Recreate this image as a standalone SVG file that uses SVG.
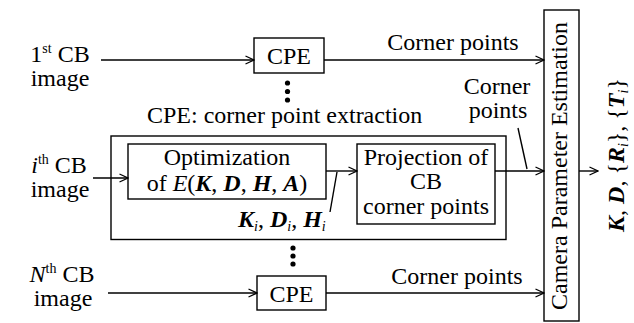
<svg xmlns="http://www.w3.org/2000/svg" width="634" height="323" viewBox="0 0 634 323" font-family="'Liberation Serif', 'DejaVu Serif', serif" font-size="24">
  <defs>
    <marker id="arr" viewBox="0 0 10 10" refX="9.5" refY="5" markerWidth="10" markerHeight="10" markerUnits="userSpaceOnUse" orient="auto">
      <path d="M1,1 L9.5,5 L1,9" fill="none" stroke="#000" stroke-width="1.3"/>
    </marker>
  </defs>
  <style>
    .box { fill: #fff; stroke: #000; stroke-width: 1.4; }
    .line { fill: none; stroke: #000; stroke-width: 1.4; }
    .arrow { fill: none; stroke: #000; stroke-width: 1.4; marker-end: url(#arr); }
    .bi { font-weight: bold; font-style: italic; }
    .it { font-style: italic; }
    .sup { font-size: 14px; }
    .mid { text-anchor: middle; }
  </style>
  <rect width="634" height="323" fill="#fff"/>

  <!-- inputs -->
  <g id="input1">
    <text x="60" y="62" class="mid">1<tspan class="sup" dy="-9">st</tspan><tspan dy="9"> CB</tspan></text>
    <text x="60" y="86" class="mid">image</text>
  </g>
  <g id="inputI">
    <text x="59" y="173" class="mid"><tspan class="it">i</tspan><tspan class="sup" dy="-9">th</tspan><tspan dy="9"> CB</tspan></text>
    <text x="60" y="197" class="mid">image</text>
  </g>
  <g id="inputN">
    <text x="62" y="282" class="mid"><tspan class="it">N</tspan><tspan class="sup" dy="-9">th</tspan><tspan dy="9"> CB</tspan></text>
    <text x="63" y="306" class="mid">image</text>
  </g>

  <!-- CPE blocks -->
  <g id="cpe1">
    <rect class="box" x="254" y="38" width="70" height="35"/>
    <text x="289" y="64" class="mid">CPE</text>
  </g>
  <g id="cpeN">
    <rect class="box" x="257" y="276" width="69" height="34"/>
    <text x="291.5" y="302" class="mid">CPE</text>
  </g>

  <!-- expanded CPE for the i-th image -->
  <g id="cpeI">
    <text x="147" y="123">CPE: corner point extraction</text>
    <rect class="box" x="111" y="136" width="395" height="103.5"/>
  </g>
  <g id="optimization">
    <rect class="box" x="128" y="144" width="198" height="55"/>
    <text x="227" y="165" class="mid">Optimization</text>
    <text x="227" y="191" class="mid">of <tspan class="it">E</tspan>(<tspan class="bi">K</tspan>, <tspan class="bi">D</tspan>, <tspan class="bi">H</tspan>, <tspan class="bi">A</tspan>)</text>
  </g>
  <g id="projection">
    <rect class="box" x="357" y="144" width="138" height="80"/>
    <text x="426" y="165" class="mid">Projection of</text>
    <text x="426" y="189" class="mid">CB</text>
    <text x="426" y="214" class="mid">corner points</text>
  </g>

  <!-- estimator -->
  <g id="estimation">
    <rect class="box" x="544" y="10" width="35" height="311"/>
    <text class="mid" transform="translate(567,166) rotate(-90)">Camera Parameter Estimation</text>
  </g>
  <g id="output">
    <text class="mid" transform="translate(624,155) rotate(-90)"><tspan class="bi">K</tspan>, <tspan class="bi">D</tspan>, {<tspan class="bi">R</tspan><tspan class="sup it" dy="4">i</tspan><tspan dy="-4">}, {</tspan><tspan class="bi">T</tspan><tspan class="sup it" dy="4">i</tspan><tspan dy="-4">}</tspan></text>
  </g>

  <!-- continuation dots -->
  <g id="dots">
    <circle cx="287.5" cy="83" r="2.6"/>
    <circle cx="287.5" cy="91.5" r="2.6"/>
    <circle cx="287.5" cy="100" r="2.6"/>
    <circle cx="293" cy="248" r="2.6"/>
    <circle cx="293" cy="256" r="2.6"/>
    <circle cx="293" cy="264" r="2.6"/>
  </g>

  <!-- connectors -->
  <g id="connectors">
    <line class="arrow" x1="101" y1="60" x2="254" y2="60"/>
    <line class="arrow" x1="324" y1="60" x2="544" y2="60"/>
    <line class="arrow" x1="93" y1="178" x2="128" y2="178"/>
    <line class="arrow" x1="326" y1="171" x2="357" y2="171"/>
    <line class="arrow" x1="495" y1="171" x2="544" y2="171"/>
    <line class="arrow" x1="108" y1="293" x2="257" y2="293"/>
    <line class="arrow" x1="326" y1="293" x2="544" y2="293"/>
    <line class="arrow" x1="579" y1="171" x2="598" y2="171"/>
    <line class="line" x1="518" y1="128" x2="527" y2="169"/>
    <line class="line" x1="330" y1="212" x2="337" y2="172"/>
  </g>

  <!-- connector labels -->
  <g id="labels">
    <text x="453" y="50" class="mid">Corner points</text>
    <text x="497" y="94" class="mid">Corner</text>
    <text x="498" y="118" class="mid">points</text>
    <text x="457" y="284" class="mid">Corner points</text>
    <text x="238" y="227"><tspan class="bi">K</tspan><tspan class="sup it" dy="4">i</tspan><tspan dy="-4">, </tspan><tspan class="bi">D</tspan><tspan class="sup it" dy="4">i</tspan><tspan dy="-4">, </tspan><tspan class="bi">H</tspan><tspan class="sup it" dy="4">i</tspan></text>
  </g>
</svg>
